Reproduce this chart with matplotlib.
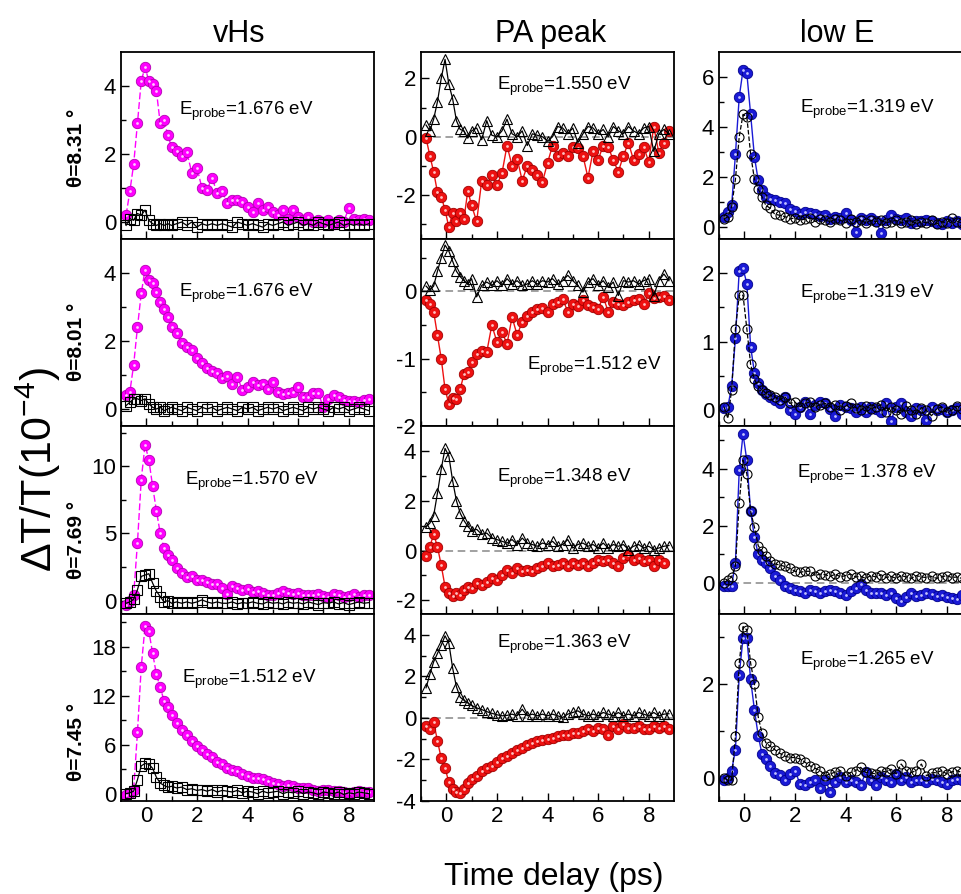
import numpy as np
import matplotlib
matplotlib.use("Agg")
import matplotlib.pyplot as plt

plt.rcParams['font.family'] = ['Liberation Sans', 'DejaVu Sans']
plt.rcParams['mathtext.fontset'] = 'custom'
plt.rcParams['mathtext.rm'] = 'Liberation Sans'
plt.rcParams['mathtext.it'] = 'Liberation Sans:italic'
plt.rcParams['axes.unicode_minus'] = False

# time delay (ps), shared by every panel
delay = [-0.8, -0.65, -0.5, -0.35, -0.2, -0.05, 0.1, 0.25, 0.4, 0.55, 0.7, 0.85, 1.0,
         1.2, 1.4, 1.6, 1.8, 2.0, 2.2, 2.4, 2.6, 2.8, 3.0,
         3.2, 3.4, 3.6, 3.8, 4.0, 4.2, 4.4, 4.6, 4.8, 5.0,
         5.2, 5.4, 5.6, 5.8, 6.0, 6.2, 6.4, 6.6, 6.8, 7.0,
         7.2, 7.4, 7.6, 7.8, 8.0, 8.2, 8.4, 8.6, 8.8]

# ---- vHs column ----
vhs_fill_831 = [0.2, 0.9, 1.7, 2.9, 4.15, 4.55, 4.15, 4.05, 3.85, 2.9, 3.0, 2.55, 2.2,
                2.1, 1.95, 2.05, 1.45, 1.6, 1.0, 0.95, 1.3, 0.85, 0.9,
                0.55, 0.65, 0.65, 0.6, 0.45, 0.3, 0.55, 0.35, 0.45, 0.3,
                0.2, 0.35, 0.1, 0.35, 0.15, 0.05, 0.15, 0.0, 0.05, 0.0,
                0.05, -0.05, 0.05, 0.0, 0.4, 0.1, 0.05, 0.1, 0.05]
vhs_open_831 = [-0.1, 0.1, 0.05, 0.25, 0.2, 0.35, 0.05, -0.05, -0.1, -0.05, -0.1, -0.05, -0.1,
                -0.05, 0.0, -0.1, 0.0, -0.15, -0.05, -0.1, -0.05, -0.1, -0.05,
                -0.1, -0.15, 0.0, -0.05, -0.1, -0.05, -0.1, -0.15, -0.05, -0.1,
                -0.05, 0.0, -0.1, -0.05, 0.0, -0.1, -0.05, -0.1, 0.0, -0.05,
                -0.1, -0.05, 0.0, -0.1, -0.05, -0.1, -0.05, -0.1, -0.05]
vhs_fill_801 = [0.4, 0.5, 1.3, 2.4, 3.4, 4.1, 3.8, 3.7, 3.45, 3.15, 2.95, 2.7, 2.4,
                2.25, 1.95, 1.83, 1.75, 1.5, 1.35, 1.22, 1.12, 1.05, 0.9,
                0.97, 0.75, 0.95, 0.55, 0.65, 0.8, 0.7, 0.75, 0.6, 0.78,
                0.5, 0.43, 0.47, 0.5, 0.65, 0.36, 0.36, 0.46, 0.46, 0.05,
                0.3, 0.4, 0.36, 0.27, 0.23, 0.25, 0.2, 0.27, 0.3]
vhs_open_801 = [0.1, 0.2, 0.3, 0.3, 0.25, 0.3, 0.15, 0.05, 0.0, 0.05, -0.05, 0.0, 0.05,
                0.0, -0.05, 0.05, 0.0, -0.05, 0.05, 0.0, 0.05, -0.05, 0.0,
                0.05, 0.0, -0.05, 0.05, 0.0, 0.05, -0.05, 0.0, 0.05, 0.0,
                0.05, -0.05, 0.0, 0.05, 0.0, -0.05, 0.05, 0.0, 0.05, 0.0,
                -0.05, 0.05, 0.0, 0.05, -0.05, 0.0, 0.05, 0.0, -0.05]
vhs_fill_769 = [-0.3, 0.0, 0.4, 4.3, 9.0, 11.6, 10.5, 8.5, 6.7, 5.0, 3.9, 3.4, 3.0,
                2.4, 2.05, 1.75, 1.8, 1.55, 1.5, 1.4, 1.25, 1.2, 0.95,
                0.5, 1.05, 0.9, 0.8, 0.85, 0.65, 0.75, 0.55, 0.4, 0.45,
                0.6, 0.75, 0.6, 0.5, 0.55, 0.45, 0.45, 0.4, 0.5, 0.35,
                0.3, 0.5, 0.4, 0.3, 0.35, 0.5, 0.25, 0.4, 0.45]
vhs_open_769 = [-0.2, -0.1, 0.1, 0.8, 1.8, 1.9, 2.0, 1.3, 0.7, 0.3, -0.1, 0.0, -0.2,
                -0.1, -0.2, -0.1, -0.2, -0.1, 0.05, -0.1, -0.2, -0.1, -0.2,
                -0.2, -0.1, -0.25, -0.15, -0.2, -0.1, -0.2, -0.25, -0.1, -0.2,
                -0.15, -0.25, -0.1, -0.2, -0.15, -0.25, -0.1, -0.2, -0.3, -0.15,
                -0.2, -0.1, -0.25, -0.15, -0.3, -0.2, -0.1, -0.2, -0.15]
vhs_fill_745 = [-0.2, 0.1, 0.5, 7.5, 15.5, 20.5, 19.9, 17.2, 14.6, 13.0, 11.4, 10.6, 9.6,
                8.7, 7.8, 7.2, 6.4, 5.8, 5.4, 4.8, 4.5, 3.9, 3.6,
                3.2, 2.95, 2.75, 2.4, 2.15, 1.95, 1.9, 1.75, 1.5, 1.3,
                1.15, 0.9, 1.1, 0.95, 0.75, 0.7, 0.7, 0.5, 0.35, 0.45,
                0.45, 0.3, 0.3, 0.2, 0.1, 0.2, 0.3, 0.25, 0.2]
vhs_open_745 = [0.0, 0.1, 0.3, 1.7, 3.4, 3.7, 3.6, 3.1, 2.0, 1.3, 1.0, 0.8, 0.9,
                0.7, 0.8, 0.5, 0.6, 0.4, 0.5, 0.3, 0.5, 0.2, 0.4,
                0.3, 0.2, 0.4, 0.1, 0.3, 0.2, 0.0, 0.3, 0.1, 0.2,
                0.3, 0.0, 0.2, 0.1, 0.3, 0.0, 0.2, 0.1, -0.1, 0.2,
                0.1, 0.0, 0.2, -0.1, 0.1, 0.0, 0.2, 0.1, 0.0]

# ---- PA peak column ----
pa_fill_831 = [-0.05, -0.65, -1.2, -1.9, -2.05, -2.5, -3.1, -2.6, -2.9, -2.6, -2.8, -1.85, -2.35,
               -2.9, -1.5, -1.65, -1.3, -1.65, -1.25, -0.3, -1.0, -0.75, -1.5,
               -1.0, -1.15, -1.3, -1.55, -0.9, -0.3, -0.65, -0.55, -0.65, -0.35,
               -0.4, -0.65, -1.4, -0.5, -0.8, -0.3, -0.35, -0.8, -1.2, -0.65,
               -0.2, -0.8, -0.6, -0.35, -0.85, 0.35, -0.55, -0.2, 0.2]
pa_open_831 = [0.4, 0.2, 0.6, 1.2, 2.0, 2.65, 1.8, 1.3, 0.55, 0.25, 0.2, -0.05, 0.2,
               0.3, -0.1, 0.55, 0.05, 0.0, 0.2, 0.6, 0.1, 0.0, 0.2,
               -0.3, 0.1, 0.05, 0.0, -0.15, 0.0, 0.35, 0.3, 0.1, 0.3,
               -0.2, 0.1, 0.35, 0.3, 0.1, 0.25, 0.0, 0.35, 0.2, 0.1,
               0.35, 0.2, 0.1, 0.3, 0.35, -0.5, 0.1, 0.25, 0.1]
pa_fill_801 = [-0.13, -0.18, -0.3, -0.65, -1.0, -1.45, -1.67, -1.58, -1.6, -1.45, -1.23, -1.2, -1.05,
               -0.93, -0.88, -0.9, -0.5, -0.75, -0.6, -0.78, -0.38, -0.65, -0.45,
               -0.36, -0.31, -0.26, -0.24, -0.3, -0.18, -0.16, -0.11, -0.3, -0.18,
               -0.22, -0.13, -0.2, -0.23, -0.26, -0.08, -0.3, -0.16, -0.18, -0.2,
               -0.16, -0.13, -0.11, -0.18, -0.03, -0.1, -0.08, -0.06, -0.13]
pa_open_801 = [0.08, 0.02, 0.08, 0.3, 0.5, 0.69, 0.6, 0.45, 0.3, 0.22, 0.16, 0.11, 0.19,
               -0.08, 0.09, 0.14, 0.09, 0.16, 0.09, 0.19, 0.11, 0.16, 0.09,
               0.11, 0.16, 0.11, 0.16, 0.14, 0.19, 0.11, 0.16, 0.24, 0.16,
               0.09, -0.01, 0.14, 0.19, 0.09, 0.16, 0.06, 0.14, -0.06, 0.16,
               0.14, 0.16, 0.11, 0.16, 0.19, -0.06, 0.16, 0.26, 0.16]
pa_fill_769 = [-0.23, 0.16, 0.65, 0.16, -0.6, -1.45, -1.72, -1.84, -1.7, -1.77, -1.6, -1.45, -1.5,
               -1.3, -1.37, -1.25, -1.1, -1.17, -0.97, -0.77, -0.9, -0.7, -0.84,
               -0.77, -0.84, -0.7, -0.63, -0.5, -0.63, -0.57, -0.5, -0.63, -0.5,
               -0.57, -0.5, -0.63, -0.5, -0.37, -0.43, -0.37, -0.5, -0.63, -0.3,
               -0.17, -0.37, -0.3, -0.43, -0.37, -0.63, -0.37, -0.5, np.nan]
pa_open_769 = [0.95, 1.1, 1.4, 2.3, 3.27, 4.1, 3.8, 2.8, 2.0, 1.5, 1.2, 0.97, 0.8,
               0.85, 0.65, 0.7, 0.5, 0.44, 0.37, 0.3, 0.44, 0.24, 0.5,
               0.3, 0.24, 0.17, 0.3, 0.24, 0.37, 0.17, 0.24, 0.44, 0.1,
               0.24, 0.3, 0.17, 0.24, 0.1, 0.3, 0.1, 0.24, 0.17, 0.24,
               0.04, 0.17, 0.24, 0.1, 0.17, 0.04, 0.1, 0.17, 0.2]
pa_fill_745 = [-0.39, -0.55, -0.2, -1.1, -1.95, -2.4, -3.1, -3.4, -3.55, -3.6, -3.4, -3.15, -2.95,
               -2.8, -2.55, -2.4, -2.3, -2.1, -1.95, -1.85, -1.7, -1.55, -1.45,
               -1.3, -1.2, -1.12, -1.05, -1.04, -0.96, -0.88, -0.8, -0.8, -0.72,
               -0.72, -0.63, -0.55, -0.63, -0.47, -0.55, -0.8, -0.39, -0.55, -0.31,
               -0.47, -0.47, -0.39, -0.55, -0.55, -0.39, -0.47, -0.39, -0.55]
pa_open_745 = [1.45, 2.1, 2.7, 3.1, 3.5, 3.95, 3.6, 2.4, 1.5, 0.99, 0.85, 0.72, 0.6,
               0.48, 0.4, 0.3, 0.22, 0.15, 0.1, 0.12, 0.18, 0.1, 0.42,
               0.1, 0.18, 0.1, 0.18, 0.1, 0.18, 0.1, 0.02, 0.18, 0.26,
               0.34, 0.18, 0.1, 0.18, 0.1, 0.26, 0.18, 0.1, 0.26, 0.1,
               0.18, 0.1, 0.26, 0.18, 0.1, 0.26, 0.1, 0.18, 0.2]

# ---- low E column ----
low_fill_831 = [0.4, 0.6, 0.85, 2.9, 5.2, 6.28, 6.15, 4.5, 2.8, 1.85, 1.45, 1.2, 1.1,
                1.08, 1.0, 0.95, 0.7, 0.62, 0.5, 0.6, 0.55, 0.5, 0.41,
                0.48, 0.3, 0.4, 0.35, 0.55, 0.28, -0.2, 0.35, 0.28, 0.35,
                0.21, -0.25, 0.28, 0.48, 0.3, 0.28, 0.35, 0.15, 0.21, 0.21,
                0.28, 0.21, 0.15, 0.1, 0.21, 0.15, 0.21, 0.1, 0.15]
low_open_831 = [0.3, 0.4, 0.8, 1.9, 3.6, 4.5, 4.4, 2.9, 1.9, 1.5, 1.2, 0.85, 0.75,
                0.5, 0.45, 0.4, 0.3, 0.35, 0.25, 0.3, 0.35, 0.2, 0.3,
                0.25, 0.2, 0.3, 0.25, 0.15, 0.3, 0.2, 0.25, 0.15, 0.25,
                0.2, 0.25, 0.15, 0.2, 0.25, 0.15, 0.2, 0.25, 0.1, 0.2,
                0.15, 0.25, 0.1, 0.2, 0.15, 0.35, 0.2, 0.15, 0.2]
low_fill_801 = [0.03, 0.05, 0.35, 1.05, 2.04, 2.07, 1.85, 0.93, 0.55, 0.4, 0.3, 0.23, 0.2,
                0.15, 0.1, 0.19, 0.0, -0.05, 0.05, 0.12, -0.05, 0.08, 0.12,
                0.1, 0.02, -0.09, 0.07, 0.05, 0.03, -0.03, 0.05, -0.02, 0.05,
                0.02, -0.02, 0.1, -0.15, 0.05, 0.1, -0.02, -0.09, 0.03, 0.0,
                -0.14, 0.05, 0.0, 0.02, -0.02, 0.0, 0.03, -0.05, 0.02]
low_open_801 = [0.05, -0.12, 0.3, 1.19, 1.68, 1.68, 1.19, 0.67, 0.45, 0.35, 0.3, 0.25, 0.22,
                0.2, 0.15, 0.2, 0.1, 0.12, 0.05, 0.1, 0.12, 0.05, 0.08,
                0.1, 0.05, 0.08, 0.0, 0.06, 0.1, 0.04, 0.0, 0.06, 0.02,
                0.05, 0.08, -0.02, 0.05, 0.0, -0.05, 0.06, 0.0, -0.06, 0.04,
                0.0, -0.08, 0.02, 0.05, -0.03, 0.0, 0.06, 0.02, 0.05]
low_fill_769 = [-0.13, -0.13, -0.1, 0.7, 3.94, 5.22, 4.29, 2.5, 1.6, 1.0, 0.8, 0.69, 0.5,
                0.22, 0.1, -0.13, -0.2, -0.24, -0.3, -0.36, -0.24, -0.3, -0.36,
                -0.3, -0.24, -0.3, -0.36, -0.42, -0.3, -0.2, -0.06, -0.24, -0.36,
                -0.36, -0.36, -0.42, -0.36, -0.55, -0.65, -0.5, -0.36, -0.48, -0.42,
                -0.36, -0.4, -0.48, -0.42, -0.5, -0.53, -0.59, -0.42, -0.45]
low_open_769 = [0.0, 0.1, 0.2, 0.6, 2.8, 4.3, 3.82, 2.5, 1.95, 1.3, 1.1, 0.92, 0.75,
                0.66, 0.62, 0.57, 0.5, 0.4, 0.36, 0.4, 0.4, 0.25, 0.3,
                0.28, 0.22, 0.3, 0.2, 0.25, 0.3, 0.2, 0.22, 0.15, 0.25,
                0.2, 0.28, 0.18, 0.22, 0.15, 0.25, 0.2, 0.15, 0.25, 0.2,
                0.18, 0.22, 0.15, 0.2, 0.25, 0.18, 0.2, 0.15, 0.2]
low_fill_745 = [-0.06, 0.0, 0.15, 0.6, 2.2, 2.99, 2.99, 2.1, 1.45, 0.9, 0.5, 0.4, 0.25,
                0.1, 0.05, -0.06, 0.08, 0.15, -0.13, -0.16, -0.1, -0.06, -0.23,
                -0.06, -0.3, -0.09, 0.01, -0.09, -0.06, -0.1, -0.16, 0.11, -0.06,
                -0.16, 0.01, -0.05, -0.09, 0.08, -0.06, 0.01, -0.09, -0.06, -0.06,
                -0.09, -0.02, -0.06, -0.1, -0.13, -0.06, -0.02, -0.06, -0.04]
low_open_745 = [0.0, -0.06, -0.05, 0.9, 2.45, 3.23, 3.16, 2.45, 2.0, 1.3, 0.95, 0.75, 0.68,
                0.6, 0.52, 0.46, 0.43, 0.43, 0.4, 0.33, 0.25, 0.2, 0.15,
                0.04, 0.08, 0.12, 0.15, 0.04, 0.11, 0.15, 0.22, 0.11, 0.1,
                0.08, 0.15, 0.12, 0.18, 0.08, 0.29, 0.15, 0.11, 0.15, 0.29,
                0.04, 0.1, 0.11, 0.15, 0.08, 0.12, 0.15, 0.11, 0.12]

col_titles = ['vHs', 'PA peak', 'low E']
twist_labels = ['θ=8.31 °', 'θ=8.01 °', 'θ=7.69 °', 'θ=7.45 °']
probe_labels = [['1.676', '1.550', '1.319'],
                ['1.676', '1.512', '1.319'],
                ['1.570', '1.348', ' 1.378'],
                ['1.512', '1.363', '1.265']]

filled = [[vhs_fill_831, pa_fill_831, low_fill_831],
          [vhs_fill_801, pa_fill_801, low_fill_801],
          [vhs_fill_769, pa_fill_769, low_fill_769],
          [vhs_fill_745, pa_fill_745, low_fill_745]]
opened = [[vhs_open_831, pa_open_831, low_open_831],
          [vhs_open_801, pa_open_801, low_open_801],
          [vhs_open_769, pa_open_769, low_open_769],
          [vhs_open_745, pa_open_745, low_open_745]]

# panel layout in pixels
W, H = 961, 894
col_left = [121, 421, 719]
col_w = 253
row_top = [52, 239, 426, 614]
row_bot = [239, 426, 614, 801]

ylims = [[(-0.5, 5.0), (-3.5, 2.9), (-0.5, 7.0)],
         [(-0.5, 5.0), (-2.0, 0.78), (-0.23, 2.5)],
         [(-1.0, 13.0), (-2.55, 5.0), (-1.1, 5.5)],
         [(-0.9, 22.0), (-4.0, 5.0), (-0.5, 3.5)]]
yticks = [[[0, 2, 4], [-2, 0, 2], [0, 2, 4, 6]],
          [[0, 2, 4], [-2, -1, 0], [0, 1, 2]],
          [[0, 5, 10], [-2, 0, 2, 4], [0, 2, 4]],
          [[0, 6, 12, 18], [-4, -2, 0, 2, 4], [0, 2]]]
yminor = [[[1, 3], [-3, -1, 1], [1, 3, 5]],
          [[1, 3], [-1.5, -0.5, 0.5], [0.5, 1.5]],
          [[2.5, 7.5, 12.5], [-1, 1, 3], [1, 3, 5]],
          [[3, 9, 15, 21], [-3, -1, 1, 3], [1, 3]]]
text_pos = [[(0.23, 0.663), (0.30, 0.797), (0.32, 0.674)],
            [(0.23, 0.69), (0.42, 0.30), (0.32, 0.684)],
            [(0.253, 0.686), (0.30, 0.702), (0.31, 0.723)],
            [(0.24, 0.631), (0.30, 0.82), (0.32, 0.727)]]

ball_color = ['#ff00ff', '#ee1111', '#1a1ad6']
ball_edge = ['#b000b0', '#a00000', '#00008a']
ball_light = ['#ffc8ff', '#ffc0c0', '#c0c0ff']
fill_ls = [(0, (5, 2)), '-', '-']
open_marker = ['s', '^', 'o']
open_ls = ['-', '-', '--']

fig = plt.figure(figsize=(W / 100, H / 100), dpi=100)

for r in range(4):
    for c in range(3):
        ax = fig.add_axes([col_left[c] / W, 1 - row_bot[r] / H,
                           col_w / W, (row_bot[r] - row_top[r]) / H])
        if c == 1 or (c == 2 and r == 2):
            ax.axhline(0, color='#888888', lw=1.1, ls=(0, (5, 3)), zorder=1)
        ax.plot(delay, filled[r][c], ls=fill_ls[c], color=ball_color[c], lw=1.0,
                marker='o', ms=7.5, mfc=ball_color[c], mec=ball_edge[c], mew=0.6,
                zorder=2)
        ax.plot(delay, filled[r][c], ls='none', marker='o', ms=2,
                mfc=ball_light[c], mec='none', zorder=3)
        ax.plot(delay, opened[r][c], ls=open_ls[c], color='black', lw=0.9,
                marker=open_marker[c], ms=6.5, mfc='none',
                mec='black', mew=0.8, zorder=4)

        ax.set_xlim(-1, 9)
        ax.set_ylim(*ylims[r][c])
        ax.set_xticks([0, 2, 4, 6, 8])
        ax.set_xticks([-1, 1, 3, 5, 7], minor=True)
        ax.set_yticks(yticks[r][c])
        ax.set_yticks(yminor[r][c], minor=True)
        ax.tick_params(which='both', direction='in', top=False, right=False,
                       labelsize=16, width=1.0)
        ax.tick_params(which='major', length=6)
        ax.tick_params(which='minor', length=3.5)
        if r < 3:
            ax.tick_params(labelbottom=False)
        for s in ax.spines.values():
            s.set_linewidth(1.3)

        tx, ty = text_pos[r][c]
        ax.text(tx, ty, r'E$_{\mathrm{probe}}$=' + probe_labels[r][c] + ' eV',
                transform=ax.transAxes, fontsize=13.5, va='baseline', ha='left',
                zorder=6)

title_x = [239, 551, 837]
for c in range(3):
    fig.text(title_x[c] / W, 1 - 42 / H, col_titles[c], fontsize=22,
             ha='center', va='baseline')

twist_y = [148, 342, 540, 742]
for r in range(4):
    fig.text(76 / W, 1 - twist_y[r] / H, twist_labels[r], fontsize=15,
             fontweight='bold', rotation=90, ha='center', va='center')

fig.text(38 / W, 1 - 470 / H, r'ΔT/T(10$^{-4}$)', fontsize=31, rotation=90,
         ha='center', va='center')
fig.text(554 / W, 1 - 885 / H, 'Time delay (ps)', fontsize=23,
         ha='center', va='baseline')

fig.savefig('out.png', dpi=100)
